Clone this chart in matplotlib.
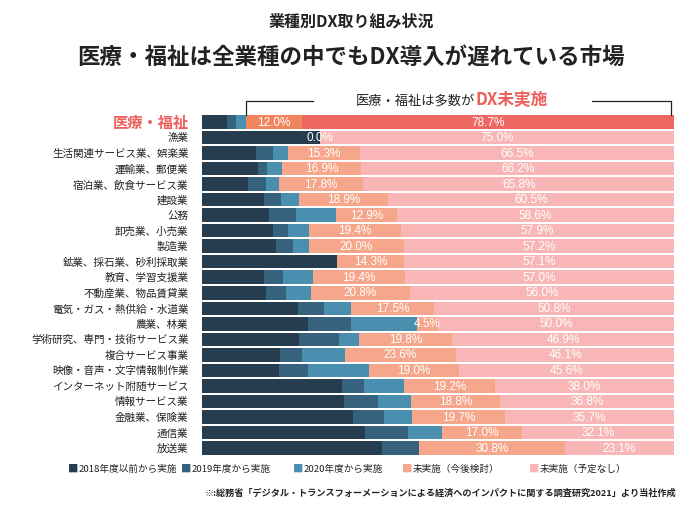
import matplotlib
matplotlib.use("Agg")
import matplotlib.pyplot as plt
import numpy as np

plt.rcParams['font.family'] = ['Noto Sans CJK JP', 'DejaVu Sans']

categories = [
    "医療・福祉", "漁業", "生活関連サービス業、娯楽業", "運輸業、郵便業",
    "宿泊業、飲食サービス業", "建設業", "公務", "卸売業、小売業", "製造業",
    "鉱業、採石業、砂利採取業", "教育、学習支援業", "不動産業、物品賃貸業",
    "電気・ガス・熱供給・水道業", "農業、林業", "学術研究、専門・技術サービス業",
    "複合サービス事業", "映像・音声・文字情報制作業", "インターネット附随サービス",
    "情報サービス業", "金融業、保険業", "通信業", "放送業",
]
before2018 = [5.3, 25.0, 11.6, 12.0, 9.9, 13.2, 14.2, 15.0, 15.7, 28.6, 13.1,
              13.7, 20.4, 22.6, 20.7, 16.6, 16.3, 29.8, 30.1, 32.0, 34.6, 38.2]
from2019 = [2.0, 0.0, 3.6, 1.8, 3.7, 3.6, 5.7, 3.2, 3.6, 0.0, 4.2,
            4.2, 5.5, 9.1, 8.4, 4.6, 6.3, 4.6, 7.2, 6.6, 9.0, 7.9]
from2020 = [2.0, 0.0, 3.0, 3.1, 2.8, 3.8, 8.6, 4.5, 3.5, 0.0, 6.3,
            5.3, 5.8, 13.8, 4.2, 9.1, 12.8, 8.4, 7.1, 6.0, 7.3, 0.0]
not_yet_plan = [12.0, 0.0, 15.3, 16.9, 17.8, 18.9, 12.9, 19.4, 20.0, 14.3, 19.4,
                20.8, 17.5, 4.5, 19.8, 23.6, 19.0, 19.2, 18.8, 19.7, 17.0, 30.8]
not_yet_none = [78.7, 75.0, 66.5, 66.2, 65.8, 60.5, 58.6, 57.9, 57.2, 57.1, 57.0,
                56.0, 50.8, 50.0, 46.9, 46.1, 45.6, 38.0, 36.8, 35.7, 32.1, 23.1]
legend_labels = ["2018年度以前から実施", "2019年度から実施", "2020年度から実施",
                 "未実施（今後検討）", "未実施（予定なし）"]

colors = ["#263D4F", "#37627E", "#4B8FB0", "#F6A78B", "#F8B7B6"]
hl_colors = ["#263D4F", "#37627E", "#4B8FB0", "#F1865E", "#EF6763"]
hl_red = "#EE5F5B"

W, H = 697, 509
fig = plt.figure(figsize=(W / 100, H / 100), dpi=100)
ax_left, ax_right = 201.7, 674.0
ax_top, ax_bot = 114.2, 455.8
ax = fig.add_axes([ax_left / W, 1 - ax_bot / H, (ax_right - ax_left) / W, (ax_bot - ax_top) / H])

series = [before2018, from2019, from2020, not_yet_plan, not_yet_none]
n = len(categories)
y = np.arange(n)
left = np.zeros(n)
for si, vals in enumerate(series):
    vals = np.array(vals)
    cols = [hl_colors[si] if i == 0 else colors[si] for i in range(n)]
    ax.barh(y, vals, left=left, height=0.87, color=cols, edgecolor='none')
    if si >= 3:
        for i in range(n):
            ax.text(left[i] + vals[i] / 2, y[i] + 0.04, f"{vals[i]:.1f}%",
                    ha='center', va='center', color='white', fontsize=8.5,
                    family=['Liberation Sans', 'DejaVu Sans'])
    left = left + vals

ax.set_xlim(0, 100)
ax.set_ylim(n - 0.5, -0.5)
ax.set_yticks(y)
ax.set_yticklabels(categories, fontsize=7.6, color="#222222")
ax.tick_params(axis='y', length=0, pad=9.5)
ax.set_xticks([])
for s in ax.spines.values():
    s.set_visible(False)
tl = ax.get_yticklabels()[0]
tl.set_color(hl_red)
tl.set_fontsize(11)
tl.set_fontweight('bold')

# bracket annotation over highlighted row
x0 = before2018[0] + from2019[0] + from2020[0]
ytop = -1.37
ybar = -0.45
lk = dict(color='#222222', lw=0.9, clip_on=False)
ax.plot([x0, x0, 23.6], [ybar, ytop, ytop], **lk)
ax.plot([82.6, 99.4, 99.4], [ytop, ytop, ybar], **lk)
ax.text(57.9, ytop, "医療・福祉は多数が", ha='right', va='center', fontsize=9.5,
        color='#222222')
ax.text(57.9, ytop - 0.05, "DX未実施", ha='left', va='center', fontsize=12,
        color=hl_red, fontweight='bold')

# titles
fig.text(351 / W, 1 - 21.5 / H, "業種別DX取り組み状況", ha='center', va='center',
         fontsize=11.5, fontweight='bold', color='#222222')
fig.text(351 / W, 1 - 57.5 / H, "医療・福祉は全業種の中でもDX導入が遅れている市場",
         ha='center', va='center', fontsize=16.2, fontweight='bold', color='#222222')

# legend
leg_x = [68, 181, 293, 402, 529]
for lx, lab, c in zip(leg_x, legend_labels, colors):
    fig.text(lx / W, 1 - 469 / H, "■", ha='left', va='center', fontsize=7.5, color=c)
    fig.text((lx + 11) / W, 1 - 469 / H, lab, ha='left', va='center',
             fontsize=6.9, color='#222222')

fig.text(676 / W, 1 - 493 / H,
         "※:総務省「デジタル・トランスフォーメーションによる経済へのインパクトに関する調査研究2021」より当社作成",
         ha='right', va='center', fontsize=6.6, fontweight='bold', color='#222222')

fig.savefig("out.png", dpi=100)
